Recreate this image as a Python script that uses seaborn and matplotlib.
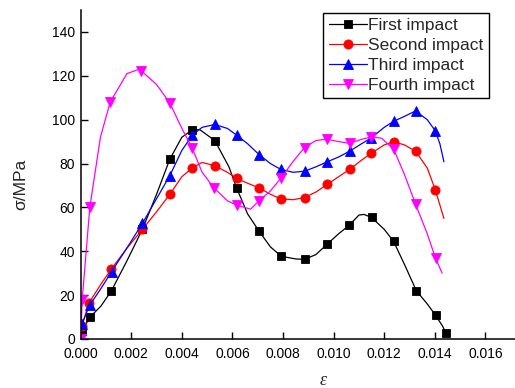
import matplotlib
matplotlib.use("Agg")
import matplotlib.pyplot as plt
import seaborn as sns
import pandas as pd

# ---- data ----
first_strain = [0.0, 0.00005, 0.00036, 0.0008, 0.00121, 0.0018, 0.00244, 0.003, 0.00352, 0.004, 0.0044,
                0.0047, 0.0053, 0.00586, 0.00617, 0.0066, 0.00705, 0.0075, 0.00793, 0.0085, 0.00885, 0.0093,
                0.00973, 0.0102, 0.01062, 0.0110, 0.0112, 0.0115, 0.0120, 0.01237, 0.0128, 0.01327, 0.0137,
                0.01403, 0.0143, 0.01445]
first_stress = [0.0, 3.5, 9.9, 15.0, 21.9, 35.0, 50.0, 66.0, 81.9, 92.0, 95.2,
                95.5, 90.5, 78.5, 68.7, 57.0, 49.2, 42.0, 37.7, 36.5, 36.3, 38.5,
                43.1, 48.0, 51.9, 56.5, 56.8, 55.4, 50.0, 44.5, 34.0, 22.0, 16.0,
                10.8, 6.0, 2.6]
first_marks = [1, 2, 4, 6, 8, 10, 12, 14, 16, 18, 20, 22, 24, 27, 29, 31, 33, 35]

second_strain = [0.0, 0.00005, 0.00033, 0.0008, 0.00121, 0.0018, 0.00244, 0.003, 0.00352, 0.004, 0.00441,
                 0.0048, 0.0053, 0.0058, 0.00617, 0.0066, 0.00705, 0.0075, 0.0079, 0.0084, 0.00885, 0.0093,
                 0.00975, 0.0102, 0.01063, 0.0111, 0.01149, 0.0120, 0.01237, 0.0128, 0.01324, 0.0137,
                 0.01402, 0.01436]
second_stress = [0.0, 6.0, 16.5, 25.0, 31.9, 41.0, 50.0, 58.0, 65.9, 74.0, 78.0,
                 80.5, 79.0, 76.0, 73.2, 71.0, 68.9, 66.0, 63.9, 63.5, 64.5, 67.0,
                 70.5, 74.0, 77.3, 81.5, 84.7, 88.5, 89.9, 88.5, 85.6, 78.0,
                 68.0, 55.0]
second_marks = [1, 2, 4, 6, 8, 10, 12, 14, 16, 18, 20, 22, 24, 26, 28, 30, 32]

third_strain = [0.0, 0.00005, 0.00036, 0.0008, 0.00122, 0.0018, 0.00244, 0.003, 0.00352, 0.004, 0.00441,
                0.0048, 0.0053, 0.0058, 0.00617, 0.0066, 0.00705, 0.0075, 0.0079, 0.0084, 0.00885, 0.0093,
                0.00975, 0.0102, 0.01063, 0.0111, 0.01149, 0.0120, 0.01238, 0.0128, 0.01324, 0.0137,
                0.01402, 0.0142, 0.01436]
third_stress = [0.0, 7.0, 15.5, 23.0, 30.7, 41.0, 52.7, 64.0, 74.4, 86.0, 92.9,
                96.5, 97.8, 96.0, 92.9, 89.0, 84.1, 80.0, 77.4, 76.0, 76.5, 78.5,
                80.8, 83.0, 85.6, 89.0, 91.7, 96.5, 99.3, 101.5, 104.0, 100.0,
                94.9, 89.0, 80.8]
third_marks = [0, 1, 2, 4, 6, 8, 10, 12, 14, 16, 18, 20, 22, 24, 26, 28, 30, 32]

fourth_strain = [0.0, 0.00006, 0.00036, 0.00078, 0.00117, 0.00183, 0.00229, 0.0024, 0.003, 0.00352, 0.004,
                 0.0044, 0.0048, 0.00527, 0.0058, 0.00617, 0.00672, 0.00705, 0.0075, 0.00793, 0.0084,
                 0.00885, 0.0093, 0.00974, 0.0102, 0.01063, 0.0111, 0.01149, 0.0119, 0.01238, 0.0128,
                 0.01324, 0.0137, 0.01403, 0.01429]
fourth_stress = [0.0, 18.0, 60.0, 92.0, 108.1, 121.0, 122.9, 122.2, 116.0, 107.7, 96.0,
                 87.3, 76.0, 68.9, 63.0, 61.0, 59.2, 63.0, 67.5, 73.5, 81.0,
                 87.3, 90.5, 91.1, 90.0, 89.2, 91.0, 92.2, 91.5, 86.4, 75.0,
                 61.5, 48.0, 36.8, 30.0]
fourth_marks = [0, 1, 2, 4, 7, 9, 11, 13, 15, 17, 19, 21, 23, 25, 27, 29, 31, 33]

series_names = ["First impact", "Second impact", "Third impact", "Fourth impact"]
x_ticks = [0.000, 0.002, 0.004, 0.006, 0.008, 0.010, 0.012, 0.014, 0.016]
y_ticks = [0, 20, 40, 60, 80, 100, 120, 140]

# ---- styling ----
sns.set_theme(style="ticks")
plt.rcParams["font.family"] = ["Liberation Sans", "DejaVu Sans"]
plt.rcParams["xtick.direction"] = "in"
plt.rcParams["ytick.direction"] = "in"

fig = plt.figure(figsize=(5.15, 3.88), dpi=100)
ax = fig.add_axes([80.7 / 515, 49 / 388, (515 - 80.7) / 515, 329 / 388])

specs = [
    (first_strain, first_stress, first_marks, "black", "s", 5.6),
    (second_strain, second_stress, second_marks, "#ff0000", "o", 6.6),
    (third_strain, third_stress, third_marks, "#0000ff", "^", 7.6),
    (fourth_strain, fourth_stress, fourth_marks, "#ff00ff", "v", 7.6),
]

for name, (xs, ys, marks, col, mk, ms) in zip(series_names, specs):
    df = pd.DataFrame({"strain": xs, "stress": ys})
    sns.lineplot(data=df, x="strain", y="stress", ax=ax, sort=False, estimator=None,
                 color=col, linewidth=0.9, marker=mk, markersize=ms, markevery=marks,
                 markeredgewidth=0.6, markeredgecolor=col, label=name)

ax.set_xlim(0, 0.01717)
ax.set_ylim(0, 150)
ax.set_xticks(x_ticks)
ax.set_xticklabels([f"{v:.3f}" for v in x_ticks])
ax.set_yticks(y_ticks)
ax.tick_params(axis="both", labelsize=10, length=5, width=1, colors="black", pad=4)
ax.tick_params(axis="x", pad=5.5)
for s in ["top", "right"]:
    ax.spines[s].set_visible(False)
for s in ["left", "bottom"]:
    ax.spines[s].set_linewidth(1.1)
    ax.spines[s].set_color("black")

ax.set_xlabel("ε", fontsize=13, family=["Liberation Serif", "DejaVu Serif"], style="italic")
ax.xaxis.set_label_coords((322.7 - 80.7) / (515 - 80.7), -0.1)
ax.set_ylabel("σ/MPa", fontsize=12.5)
ax.yaxis.set_label_coords(-0.12, 0.47)

leg = ax.legend(loc="upper right", bbox_to_anchor=(0.940, 0.992), fontsize=12.5,
                frameon=True, fancybox=False, handlelength=2.2, handletextpad=0.1,
                borderpad=0.3, labelspacing=0.28, borderaxespad=0.0)
leg.get_frame().set_edgecolor("black")
leg.get_frame().set_linewidth(1.0)
leg.get_frame().set_alpha(1)

fig.savefig("out.png", dpi=100)
